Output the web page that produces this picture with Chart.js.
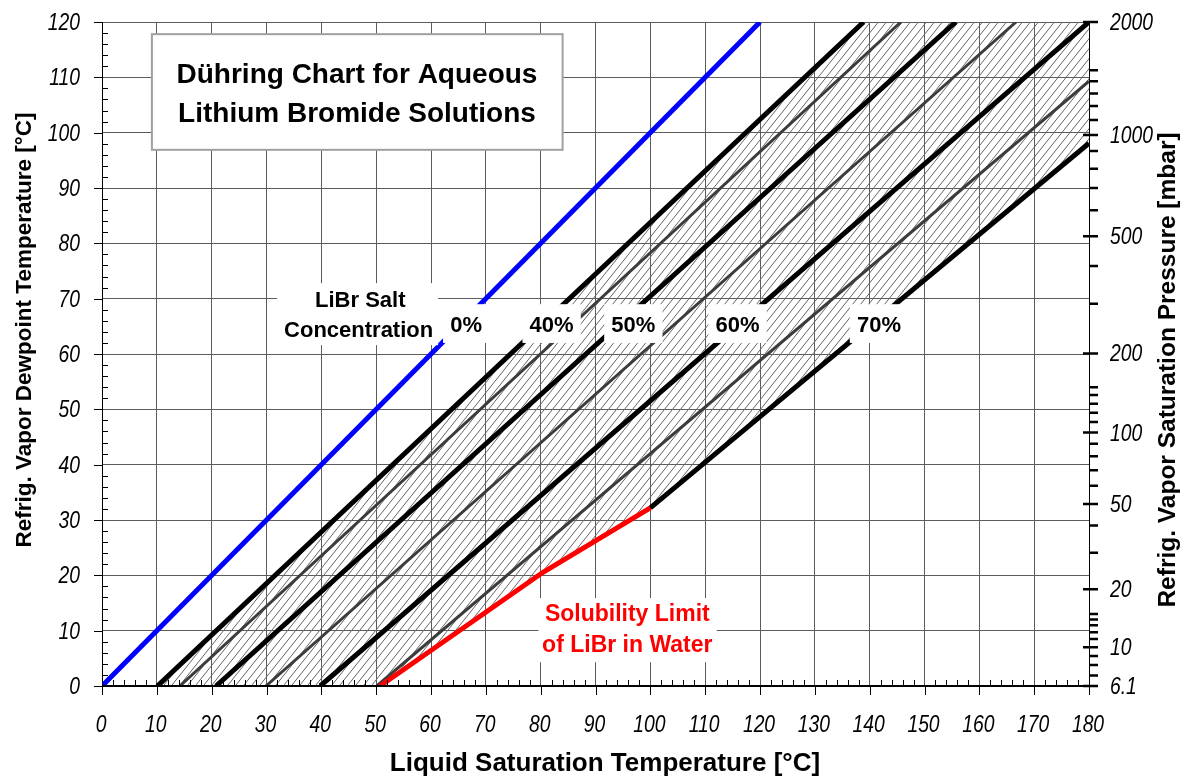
<!DOCTYPE html>
<html lang="en">
<head>
  <meta charset="UTF-8">
  <title>Dühring Chart for Aqueous Lithium Bromide Solutions</title>
  <script src="https://cdn.jsdelivr.net/npm/chart.js"></script>
  <style>
    html, body {
      margin: 0;
      padding: 0;
      background: #fff;
    }
    #wrap {
      position: relative;
      width: 1191px;
      height: 778px;
    }
  </style>
</head>
<body>
<div id="wrap"><canvas id="duhring"></canvas></div>

<script>
  // Dühring lines: liquid temperature (x) vs. refrigerant dewpoint temperature (y), °C
  const line0X  = [0, 120],      line0Y  = [0, 120];
  const line40X = [10.1, 138.9], line40Y = [0, 120];
  const line45X = [14.2, 145.7], line45Y = [0, 120];
  const line50X = [20.8, 155.7], line50Y = [0, 120];
  const line55X = [29.9, 166.7], line55Y = [0, 120];
  const line60X = [39.8, 180],   line60Y = [0, 120];
  const line65X = [50.1, 180],   line65Y = [0, 109.3];
  const line70X = [100, 180],    line70Y = [32.2, 98.1];

  // crystallisation (solubility) limit
  const solubilityX = [50.7, 80.5, 100];
  const solubilityY = [0, 20.6, 32.2];

  // right axis: saturation pressure of water (mbar) at the dewpoint temperature
  const pressureLabels = ['6.1', '10', '20', '50', '100', '200', '500', '1000', '2000'];
  const pressureTemps  = [0, 7.0, 17.5, 32.9, 45.8, 60.1, 81.3, 99.6, 120];
  const pressureMinorTemps = [1.9, 3.8, 5.4, 8.5, 9.7, 11.0, 12.0, 13.0, 24.1, 29.0,
    36.2, 39.0, 41.5, 43.8, 47.7, 49.4, 51.0, 52.6, 54.0, 69.1, 75.9,
    86.0, 90.0, 93.5, 96.7, 102.3, 104.8, 107.1, 109.3, 111.3];

  const concLabels = ['0%', '40%', '50%', '60%', '70%'];
  const concLabelX = [66.4, 82.0, 96.9, 115.9, 141.7];

  const SANS = "'Liberation Sans', Arial, sans-serif";

  function pts(xs, ys) {
    return xs.map((v, i) => ({x: v, y: ys[i]}));
  }

  // hatched zone between the 40% line and the 70% / solubility boundary
  const hatchZone = [
    ...pts(line40X, line40Y),
    {x: 180, y: 120},
    ...pts(line70X, line70Y).reverse(),
    ...pts(solubilityX, solubilityY).reverse()
  ];

  function makeHatch() {
    const c = document.createElement('canvas');
    c.width = 8;
    c.height = 10;
    const g = c.getContext('2d');
    g.strokeStyle = '#666';
    g.lineWidth = 1;
    g.beginPath();
    for (let k = -1; k <= 1; k++) {
      g.moveTo(k * 8, 10);
      g.lineTo(k * 8 + 8, 0);
    }
    g.stroke();
    return g.createPattern(c, 'repeat');
  }

  function lineSet(data, color, width) {
    return {
      data: data,
      showLine: true,
      borderColor: color,
      borderWidth: width,
      pointRadius: 0,
      fill: false,
      clip: 0
    };
  }

  // text with a white box behind it, placed in data coordinates
  function boxedText(ctx, xs, ys, lines, font, color, box) {
    ctx.font = font;
    if (box) {
      const l = xs.getPixelForValue(box[0]), r = xs.getPixelForValue(box[1]);
      const t = ys.getPixelForValue(box[2]), b = ys.getPixelForValue(box[3]);
      ctx.fillStyle = '#fff';
      ctx.fillRect(l, t, r - l, b - t);
    }
    ctx.fillStyle = color;
    ctx.textAlign = 'center';
    ctx.textBaseline = 'alphabetic';
    lines.forEach(ln => {
      ctx.fillText(ln.text, xs.getPixelForValue(ln.x), ys.getPixelForValue(ln.y));
    });
  }

  // tall, narrow italic tick numbers
  function tickText(ctx, text, x, y, align) {
    ctx.save();
    ctx.translate(x, y);
    ctx.scale(0.84, 1);
    ctx.textAlign = align;
    ctx.fillText(text, 0, 0);
    ctx.restore();
  }

  const overlay = {
    id: 'overlay',
    afterDatasetsDraw(chart) {
      const {ctx, chartArea: a} = chart;
      const xs = chart.scales.x, ys = chart.scales.y;
      ctx.save();

      // axis lines
      ctx.strokeStyle = '#000';
      ctx.lineWidth = 1;
      ctx.beginPath();
      ctx.moveTo(Math.round(a.left) + 0.5, a.top);
      ctx.lineTo(Math.round(a.left) + 0.5, a.bottom);
      ctx.moveTo(Math.round(a.right) + 0.5, a.top);
      ctx.lineTo(Math.round(a.right) + 0.5, a.bottom);
      ctx.stroke();
      ctx.lineWidth = 2;
      ctx.beginPath();
      ctx.moveTo(a.left, Math.round(a.bottom));
      ctx.lineTo(a.right + 1, Math.round(a.bottom));
      ctx.stroke();

      // major ticks outside, minor ticks inside
      ctx.lineWidth = 1;
      ctx.beginPath();
      for (let v = 0; v <= 180; v += 2) {
        const px = Math.round(xs.getPixelForValue(v)) + 0.5;
        if (v % 10 === 0) {
          ctx.moveTo(px, a.bottom); ctx.lineTo(px, a.bottom + 9);
        } else {
          ctx.moveTo(px, a.bottom); ctx.lineTo(px, a.bottom - 6);
        }
      }
      for (let v = 0; v <= 120; v += 2) {
        const py = Math.round(ys.getPixelForValue(v)) + 0.5;
        if (v % 10 === 0) {
          ctx.moveTo(a.left - 8, py); ctx.lineTo(a.left, py);
        } else {
          ctx.moveTo(a.left, py); ctx.lineTo(a.left + 6, py);
        }
      }
      ctx.stroke();

      // pressure ticks on the right axis
      ctx.lineWidth = 2.5;
      ctx.beginPath();
      pressureTemps.forEach(t => {
        const py = ys.getPixelForValue(t);
        ctx.moveTo(a.right - 6, py); ctx.lineTo(a.right + 9, py);
      });
      pressureMinorTemps.forEach(t => {
        const py = ys.getPixelForValue(t);
        ctx.moveTo(a.right, py); ctx.lineTo(a.right + 9, py);
      });
      ctx.stroke();

      // tick numbers
      ctx.fillStyle = '#000';
      ctx.textBaseline = 'alphabetic';
      ctx.font = 'italic 23px ' + SANS;
      xs.ticks.forEach(t => {
        tickText(ctx, String(t.value), xs.getPixelForValue(t.value) - 1, a.bottom + 46, 'center');
      });
      ys.ticks.forEach(t => {
        tickText(ctx, String(t.value), a.left - 22, ys.getPixelForValue(t.value) + 8, 'right');
      });
      pressureTemps.forEach((t, i) => {
        tickText(ctx, pressureLabels[i], a.right + 21, ys.getPixelForValue(t) + 8, 'left');
      });

      // title box
      const bl = xs.getPixelForValue(9.1), br = xs.getPixelForValue(84.0);
      const bt = ys.getPixelForValue(117.8), bb = ys.getPixelForValue(96.9);
      ctx.fillStyle = '#fff';
      ctx.fillRect(bl, bt, br - bl, bb - bt);
      ctx.strokeStyle = '#a0a0a0';
      ctx.lineWidth = 2;
      ctx.strokeRect(bl, bt, br - bl, bb - bt);
      boxedText(ctx, xs, ys, [
        {text: 'Dühring Chart for Aqueous', x: 46.5, y: 109.0},
        {text: 'Lithium Bromide Solutions', x: 46.5, y: 101.9}
      ], 'bold 28px ' + SANS, '#000');

      // concentration labels
      boxedText(ctx, xs, ys, [
        {text: 'LiBr Salt', x: 47.1, y: 68.5},
        {text: 'Concentration', x: 46.8, y: 63.1}
      ], 'bold 22px ' + SANS, '#000', [31.9, 61.3, 72.8, 61.6]);

      ctx.font = 'bold 22px ' + SANS;
      concLabels.forEach((txt, i) => {
        const w = ctx.measureText(txt).width / 5.478;
        const cx = concLabelX[i];
        boxedText(ctx, xs, ys, [{text: txt, x: cx, y: 64.0}],
          'bold 22px ' + SANS, '#000', [cx - w / 2 - 1.3, cx + w / 2 + 1.3, 69.0, 62.0]);
      });

      boxedText(ctx, xs, ys, [
        {text: 'Solubility Limit', x: 95.8, y: 11.7},
        {text: 'of LiBr in Water', x: 95.8, y: 6.1}
      ], 'bold 23px ' + SANS, '#ff0000', [79.6, 112.1, 15.9, 4.3]);

      // axis titles
      ctx.fillStyle = '#000';
      ctx.textAlign = 'center';
      ctx.textBaseline = 'alphabetic';
      ctx.font = 'bold 26px ' + SANS;
      ctx.fillText('Liquid Saturation Temperature [°C]', 605, 771);

      ctx.textBaseline = 'middle';
      ctx.font = 'bold 22.5px ' + SANS;
      ctx.save();
      ctx.translate(25, 330);
      ctx.rotate(-Math.PI / 2);
      ctx.fillText('Refrig. Vapor Dewpoint Temperature [°C]', 0, 0);
      ctx.restore();

      ctx.font = 'bold 24.5px ' + SANS;
      ctx.save();
      ctx.translate(1168, 370);
      ctx.rotate(-Math.PI / 2);
      ctx.fillText('Refrig. Vapor Saturation Pressure [mbar]', 0, 0);
      ctx.restore();

      ctx.restore();
    }
  };

  new Chart(document.getElementById('duhring'), {
    type: 'scatter',
    data: {
      datasets: [
        lineSet(pts(solubilityX, solubilityY), '#ff0000', 5),
        lineSet(pts(line0X, line0Y), '#0000ff', 5),
        lineSet(pts(line40X, line40Y), '#000', 5),
        lineSet(pts(line50X, line50Y), '#000', 5),
        lineSet(pts(line60X, line60Y), '#000', 5),
        lineSet(pts(line70X, line70Y), '#000', 5),
        lineSet(pts(line45X, line45Y), '#3c3c3c', 3),
        lineSet(pts(line55X, line55Y), '#3c3c3c', 3),
        lineSet(pts(line65X, line65Y), '#3c3c3c', 3),
        {
          data: hatchZone,
          showLine: true,
          borderWidth: 0,
          borderColor: 'rgba(0,0,0,0)',
          backgroundColor: makeHatch(),
          pointRadius: 0,
          fill: 'shape',
          clip: 0
        }
      ]
    },
    options: {
      responsive: true,
      maintainAspectRatio: false,
      animation: false,
      events: [],
      layout: {padding: {top: 22, left: 0, right: 0, bottom: 0}},
      plugins: {
        legend: {display: false},
        tooltip: {enabled: false}
      },
      scales: {
        x: {
          type: 'linear',
          min: 0,
          max: 180,
          afterFit: s => { s.height = 92; },
          ticks: {stepSize: 10, display: false},
          grid: {color: '#5c5c5c', lineWidth: 1, drawTicks: false},
          border: {display: false}
        },
        y: {
          type: 'linear',
          min: 0,
          max: 120,
          afterFit: s => { s.width = 102; },
          ticks: {stepSize: 10, display: false},
          grid: {color: '#5c5c5c', lineWidth: 1, drawTicks: false},
          border: {display: false}
        },
        yP: {
          type: 'linear',
          position: 'right',
          min: 0,
          max: 120,
          afterFit: s => { s.width = 102; },
          ticks: {display: false},
          grid: {display: false, drawTicks: false},
          border: {display: false}
        }
      }
    },
    plugins: [overlay]
  });
</script>
</body>
</html>
